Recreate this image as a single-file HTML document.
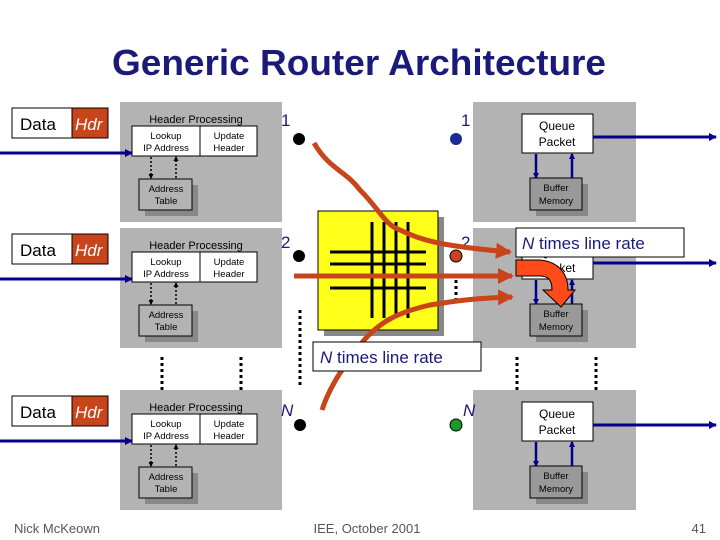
<!DOCTYPE html>
<html><head><style>
body{margin:0;background:#fff;}
svg{display:block;font-family:"Liberation Sans",sans-serif;}
</style></head><body>
<svg width="720" height="540" viewBox="0 0 720 540">
<defs>
<marker id="ba" markerWidth="8" markerHeight="8" refX="7" refY="4" orient="auto" markerUnits="userSpaceOnUse"><path d="M0,0 L8,4 L0,8z" fill="#00008b"/></marker>
<marker id="bs" markerWidth="6" markerHeight="6" refX="5" refY="3" orient="auto" markerUnits="userSpaceOnUse"><path d="M0,0 L6,3 L0,6z" fill="#00008b"/></marker>
<marker id="ka" markerWidth="5" markerHeight="5" refX="4" refY="2.5" orient="auto" markerUnits="userSpaceOnUse"><path d="M0,0 L5,2.5 L0,5z" fill="#000"/></marker>
<marker id="oa" markerWidth="16" markerHeight="16" refX="14" refY="8" orient="auto" markerUnits="userSpaceOnUse"><path d="M0,0 L16,8 L0,16z" fill="#c8441a"/></marker>
</defs>
<text x="359" y="75" text-anchor="middle" font-size="36" font-weight="bold" fill="#1a1a7a" textLength="494" lengthAdjust="spacingAndGlyphs">Generic Router Architecture</text>

<g stroke="#000" stroke-width="3" stroke-dasharray="3,3">
<line x1="162" y1="357" x2="162" y2="390"/><line x1="241" y1="357" x2="241" y2="390"/>
<line x1="517" y1="357" x2="517" y2="390"/><line x1="596" y1="357" x2="596" y2="390"/>
<line x1="300" y1="310" x2="300" y2="388"/><line x1="456" y1="280" x2="456" y2="302"/>
</g>

<g id="L">
<rect x="120" y="102" width="162" height="120" fill="#b3b3b3"/>
<rect x="12" y="108" width="60" height="30" fill="#fff" stroke="#000"/>
<rect x="72" y="108" width="36" height="30" fill="#c8441a" stroke="#000"/>
<text x="20" y="130" font-size="17">Data</text>
<text x="75" y="130" font-size="17" fill="#fff" font-style="italic">Hdr</text>
<line x1="0" y1="153" x2="132" y2="153" stroke="#00008b" stroke-width="3" marker-end="url(#ba)"/>
<text x="196" y="123" text-anchor="middle" font-size="11">Header Processing</text>
<rect x="132" y="126" width="125" height="30" fill="#fff" stroke="#000"/>
<line x1="200" y1="126" x2="200" y2="156" stroke="#000"/>
<text x="166" y="139" text-anchor="middle" font-size="9.5">Lookup</text>
<text x="166" y="151" text-anchor="middle" font-size="9.5">IP Address</text>
<text x="229" y="139" text-anchor="middle" font-size="9.5">Update</text>
<text x="229" y="151" text-anchor="middle" font-size="9.5">Header</text>
<rect x="145" y="185" width="53" height="31" fill="#888"/>
<rect x="139" y="179" width="53" height="31" fill="#b3b3b3" stroke="#000"/>
<text x="166" y="192" text-anchor="middle" font-size="9.5">Address</text>
<text x="166" y="204" text-anchor="middle" font-size="9.5">Table</text>
<line x1="151" y1="157" x2="151" y2="178" stroke="#000" stroke-width="1.5" stroke-dasharray="2,2" marker-end="url(#ka)"/>
<line x1="176" y1="178" x2="176" y2="157" stroke="#000" stroke-width="1.5" stroke-dasharray="2,2" marker-end="url(#ka)"/>
</g>
<use href="#L" y="126"/>
<use href="#L" y="288"/>

<g id="R">
<rect x="473" y="102" width="163" height="120" fill="#b3b3b3"/>
<rect x="522" y="114" width="71" height="39" fill="#fff" stroke="#000"/>
<text x="557" y="130" text-anchor="middle" font-size="12">Queue</text>
<text x="557" y="146" text-anchor="middle" font-size="12">Packet</text>
<line x1="593" y1="137" x2="716" y2="137" stroke="#00008b" stroke-width="3" marker-end="url(#ba)"/>
<rect x="536" y="184" width="52" height="32" fill="#888"/>
<rect x="530" y="178" width="52" height="32" fill="#999" stroke="#000"/>
<text x="556" y="191" text-anchor="middle" font-size="9.5">Buffer</text>
<text x="556" y="204" text-anchor="middle" font-size="9.5">Memory</text>
<line x1="536" y1="154" x2="536" y2="178" stroke="#00008b" stroke-width="2.5" marker-end="url(#bs)"/>
<line x1="572" y1="178" x2="572" y2="154" stroke="#00008b" stroke-width="2.5" marker-end="url(#bs)"/>
</g>
<use href="#R" y="126"/>
<use href="#R" y="288"/>

<rect x="324" y="217" width="120" height="119" fill="#888"/>
<rect x="318" y="211" width="120" height="119" fill="#ffff1a" stroke="#000"/>
<g stroke="#000" stroke-width="3">
<line x1="372" y1="222" x2="372" y2="318"/><line x1="384" y1="222" x2="384" y2="318"/>
<line x1="396" y1="222" x2="396" y2="318"/><line x1="408" y1="222" x2="408" y2="318"/>
<line x1="330" y1="252" x2="426" y2="252"/><line x1="330" y1="264" x2="426" y2="264"/>
<line x1="330" y1="288" x2="426" y2="288"/>
</g>

<g font-size="17" fill="#1a1a7a">
<text x="281" y="126">1</text><text x="461" y="126">1</text>
<text x="281" y="248">2</text><text x="461" y="248">2</text>
<text x="281" y="416" font-style="italic">N</text><text x="463" y="416" font-style="italic">N</text>
</g>
<circle cx="299" cy="139" r="6" fill="#000"/>
<circle cx="456" cy="139" r="6" fill="#1a2a9a"/>
<circle cx="299" cy="256" r="6" fill="#000"/>
<circle cx="456" cy="256" r="6" fill="#c8441a" stroke="#000"/>
<circle cx="300" cy="425" r="6" fill="#000"/>
<circle cx="456" cy="425" r="6" fill="#1a9a2a" stroke="#000"/>

<g fill="none" stroke="#c8441a" stroke-width="5">
<path d="M314,143 C330,170 345,170 360,190 C380,210 385,225 400,230 C420,240 440,246 510,252" marker-end="url(#oa)"/>
<line x1="294" y1="276" x2="512" y2="276" marker-end="url(#oa)"/>
<path d="M322,410 C330,385 345,365 360,345 C380,320 400,312 430,305 C460,300 480,298 512,297" marker-end="url(#oa)"/>
</g>
<path d="M516,260 L540,260 C560,262 568,275 568,290 L575,290 L561,307 L543,290 L552,290 C552,280 548,276 540,276 L516,276 Z" fill="#ff4a1a" stroke="#000"/>

<rect x="516" y="228" width="168" height="29" fill="#fff" stroke="#000"/>
<text x="522" y="249" font-size="17" fill="#1a1a7a"><tspan font-style="italic">N</tspan>  times line rate</text>
<rect x="313" y="342" width="168" height="29" fill="#fff" stroke="#000"/>
<text x="320" y="363" font-size="17" fill="#1a1a7a"><tspan font-style="italic">N</tspan> times line rate</text>

<text x="14" y="533" font-size="13" fill="#555">Nick McKeown</text>
<text x="367" y="533" text-anchor="middle" font-size="13" fill="#555">IEE, October 2001</text>
<text x="706" y="533" text-anchor="end" font-size="13" fill="#555">41</text>
</svg>
</body></html>
